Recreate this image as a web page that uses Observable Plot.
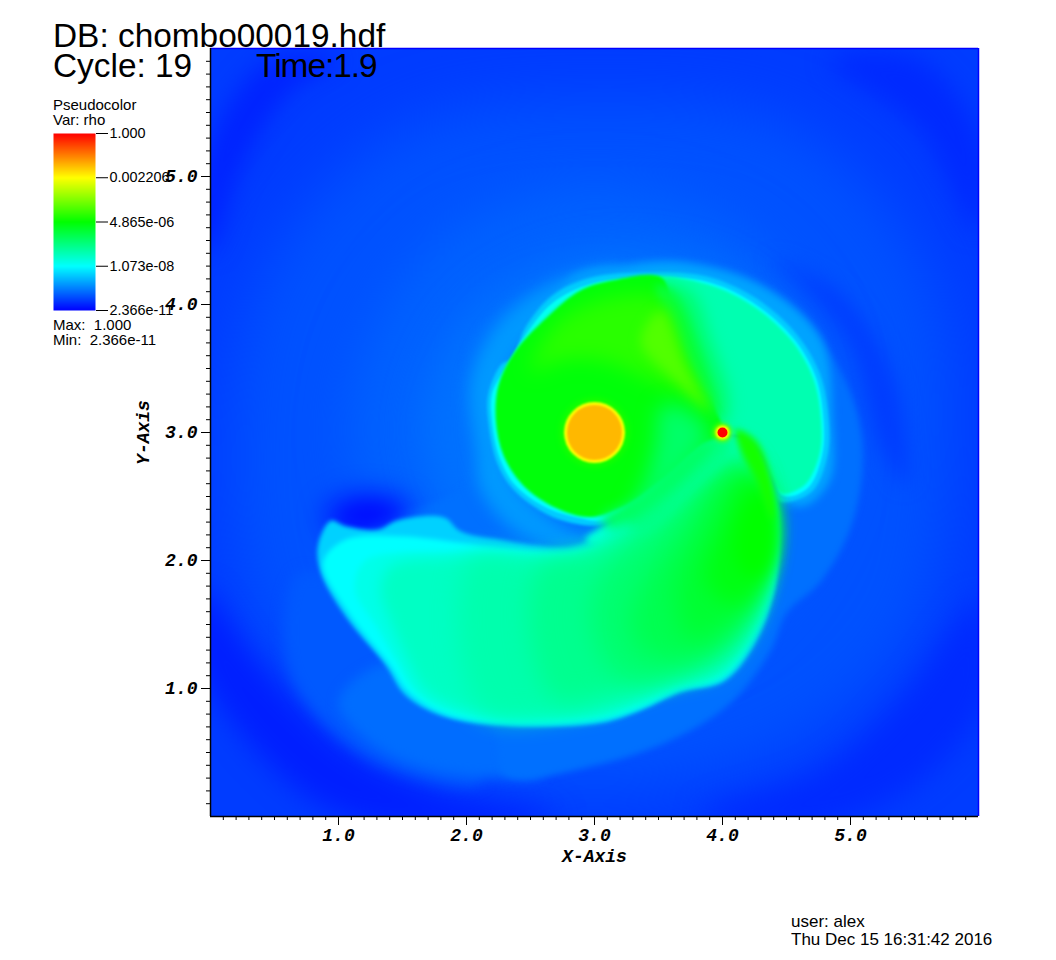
<!DOCTYPE html>
<html><head><meta charset="utf-8">
<script src="https://cdn.jsdelivr.net/npm/d3@7"></script>
<script src="https://cdn.jsdelivr.net/npm/@observablehq/plot@0.6"></script>
<style>
html,body{margin:0;padding:0;background:#fff}
#page{position:relative;width:1056px;height:960px;overflow:hidden;font-family:"Liberation Sans",sans-serif;color:#000}
#page svg{position:absolute;left:0;top:0;background:transparent}
.t{position:absolute;white-space:pre;line-height:1}
</style></head><body>
<div id="page"></div>
<script>
// colour table of the plot (rho, log scale)
const colorDomain=[2.366e-11,1.073e-8,4.865e-6,2.206e-3,1];
const colorRange=["#0000ff","#00ffff","#00ff00","#ffff00","#ff0000"];
// legend
const legendLogRho=[0,-2.656,-5.313,-7.969,-10.626];
const legendLabels=["1.000","0.002206","4.865e-06","1.073e-08","2.366e-11"];
// axis ticks
const majorTicks=[1,2,3,4,5];
const minorTicks=d3.range(1,60).map(d=>d/10);
// density of each zone
const domainBox=[{x1:0,x2:6,y1:0,y2:6,rho:1.0e-10}];
// outer halos
const haloOuter=[[3,5.59],[4.61,5.36],[5.63,4.19],[5.78,3],[5.55,1.53],[4.61,.59],[3,.2],[1.41,.59],[.39,1.53],[.16,3],[.47,4.34],[1.48,5.36]];
const haloMid=[[3,4.92],[4.30,4.45],[4.92,3],[4.30,1.61],[3,1.06],[1.72,1.61],[1.09,3],[1.72,4.45]];
const haloInner=[[3,4.42],[3.98,4.27],[4.61,3.64],[4.61,2.47],[3.05,2.0],[2.03,2.16],[1.64,3],[2.03,3.95]];
const darkSW=[[-.08,1.77],[.39,1.18],[1.02,.55],[1.72,.20],[2.73,.01],[2.02,-.11],[.94,.05],[.16,.75],[-.16,1.38]];
const darkSE=[[6.02,1.69],[5.39,.91],[4.77,.36],[3.83,.01],[4.61,-.11],[5.55,.28],[6.09,.98]];
const darkNW=[[0,4.42],[.23,5.05],[.63,5.67],[1.02,5.91],[.47,5.91],[.04,5.36],[-.12,4.58]];
const darkNE=[[4.84,5.91],[5.55,5.36],[5.98,4.58],[6.05,5.2],[5.55,5.91]];
const darkArc=[[4.38,4.35],[4.92,4.08],[5.35,3.38],[5.43,2.59],[5.23,2.91],[5.0,3.70],[4.61,4.17]];
const shelfSoft=[[2.13,.28],[1.4,.38],[.9,.72],[.6,1.2],[.7,1.9],[1.5,1.5]];
const shelfLeft=[[2.6,.33],[2.13,.31],[1.6,.40],[1.2,.62],[1.0,.9],[1.4,1.2],[2.4,.7]];
const shelf=[[3.44,4.33],[3.98,4.28],[4.53,3.99],[4.92,3.48],[5.09,2.94],[5.02,2.31],[4.77,1.84],[4.50,1.59],[4.38,1.30],[4.09,.91],[3.67,.63],[3.05,.41],[2.3,.33],[2.2,.7],[1.6,1.0],[1.3,1.4],[1.2,1.9],[1.2,2.23],[2.03,2.63],[2.03,3.72],[2.73,4.19]];
const rim=[[2.81,4.20],[3.20,4.30],[3.67,4.33],[4.30,4.15],[4.77,3.73],[4.86,3.09],[4.84,2.63],[4.65,2.43],[4.45,2.47],[4.30,2.86],[3.36,3.25],[2.58,3.63]];
const leftHalo=[[2.07,2.86],[2.03,3.41],[2.27,3.88],[2.73,4.19],[3.20,4.27],[3.05,4.03],[2.42,3.64],[2.27,3.09],[2.42,2.55],[3.05,2.16],[3.36,2.31],[3.05,2.06],[2.42,2.20],[2.11,2.55]];
const darkPatch=[[.9,2.36],[1.17,2.5],[1.55,2.42],[1.48,2.28],[1.05,2.22]];
// upper disc
const discOuter=[[2.17,3.09],[2.17,3.30],[2.27,3.53],[2.36,3.58],[2.46,3.82],[2.67,4.07],[2.97,4.21],[3.44,4.25],[3.87,4.22],[4.26,4.05],[4.57,3.78],[4.76,3.46],[4.83,3.09],[4.82,2.82],[4.71,2.55],[4.53,2.46],[4.43,2.47],[4.39,2.70],[4.26,2.94],[4.0,2.97],[3.67,2.74],[3.28,2.39],[3.05,2.28],[2.89,2.28],[2.63,2.36],[2.37,2.55],[2.24,2.76]];
const discCyan=[[2.20,3.09],[2.20,3.30],[2.30,3.50],[2.46,3.76],[2.67,4.01],[2.97,4.16],[3.44,4.21],[3.87,4.18],[4.23,4.02],[4.55,3.74],[4.73,3.43],[4.79,3.09],[4.78,2.83],[4.68,2.58],[4.53,2.50],[4.45,2.52],[4.40,2.72],[4.26,2.94],[4.0,2.97],[3.67,2.74],[3.28,2.41],[3.05,2.31],[2.89,2.33],[2.63,2.41],[2.38,2.59],[2.26,2.80]];
const rightSpring=[[3.44,4.20],[3.87,4.16],[4.22,4.0],[4.53,3.73],[4.71,3.42],[4.77,3.09],[4.76,2.84],[4.66,2.61],[4.53,2.53],[4.46,2.53],[4.39,2.63],[4.28,2.86],[4.14,2.98],[4.0,3.05],[3.83,3.48],[3.59,3.95]];
const rightWedge=[[3.44,4.15],[3.75,4.11],[3.91,3.72],[4.05,3.25],[4.0,3.05],[3.75,3.48],[3.55,3.95]];
const discGreen=[[2.23,3.09],[2.25,3.37],[2.37,3.62],[2.63,3.90],[2.89,4.11],[3.15,4.19],[3.52,4.21],[3.61,3.95],[3.77,3.56],[3.95,3.17],[4.0,3.0],[3.83,2.90],[3.52,2.63],[3.24,2.43],[2.97,2.34],[2.70,2.41],[2.44,2.59],[2.29,2.82]];
const discYellowGreen=[[2.5,3.48],[2.73,3.88],[3.2,4.07],[3.55,4.03],[3.75,3.52],[3.92,3.13],[3.75,3.29],[3.44,3.41],[3.05,3.56],[2.73,3.56]];
const ridge=[[3.36,3.71],[3.52,3.95],[3.71,3.52],[3.89,3.17],[3.67,3.37]];
const cutSoft=[[3.48,4.15],[3.61,4.11],[3.83,3.64],[3.98,3.09],[3.92,3.17],[3.67,3.64]];
const discSoft=[[3.05,2.33],[3.36,2.50],[3.83,2.90],[3.95,2.94],[3.44,2.43],[3.13,2.25]];
const eye=[[3.52,3.20],[3.71,3.18],[3.89,3.0],[3.75,2.77],[3.52,2.55],[3.28,2.39],[3.40,2.63],[3.48,2.94]];
const bridge=[[3.20,2.44],[3.52,2.70],[3.95,3.02],[4.10,2.94],[3.75,2.55],[3.36,2.23]];
const junction=[[2.93,2.16],[3.13,2.31],[3.36,2.47],[3.44,2.31],[3.16,2.08]];
// lower lobe
const lobeOuter=[[.94,2.31],[1.05,2.27],[1.31,2.24],[1.45,2.31],[1.72,2.35],[1.84,2.33],[1.95,2.23],[2.27,2.16],[2.81,2.11],[3.05,2.20],[3.28,2.39],[3.67,2.74],[4.0,2.97],[4.18,2.95],[4.34,2.74],[4.44,2.39],[4.42,1.84],[4.27,1.38],[4.02,1.06],[3.67,.97],[3.36,.83],[3.05,.73],[2.27,.71],[1.80,.79],[1.52,.95],[1.37,1.18],[1.05,1.57],[.86,1.91],[.84,2.12]];
const lobeCyan=[[.88,1.98],[1.05,2.16],[1.48,2.19],[1.95,2.14],[2.27,2.10],[2.81,2.07],[3.09,2.15],[3.32,2.38],[3.71,2.72],[4.0,2.95],[4.18,2.93],[4.31,2.73],[4.41,2.39],[4.40,1.84],[4.24,1.39],[4.0,1.08],[3.66,.99],[3.36,.85],[3.05,.76],[2.27,.73],[1.81,.81],[1.55,.97],[1.39,1.20],[1.08,1.59]];
const lobeFade=[[1.21,2.0],[1.88,2.06],[2.42,2.05],[2.85,2.05],[3.13,2.16],[3.36,2.38],[3.75,2.70],[4.0,2.92],[4.18,2.90],[4.30,2.70],[4.39,2.38],[4.38,1.84],[4.22,1.40],[3.98,1.10],[3.66,1.02],[3.36,.88],[3.05,.78],[2.27,.76],[1.84,.84],[1.60,.98],[1.45,1.22],[1.29,1.49],[1.13,1.77]];
const lobeSpring=[[1.40,1.95],[1.88,2.02],[2.42,2.02],[2.85,2.02],[3.13,2.14],[3.36,2.36],[3.75,2.68],[4.0,2.90],[4.18,2.88],[4.28,2.70],[4.37,2.38],[4.36,1.84],[4.20,1.42],[3.96,1.13],[3.65,1.05],[3.36,.92],[3.05,.82],[2.27,.80],[1.84,.88],[1.66,1.0],[1.54,1.22],[1.42,1.49],[1.33,1.77]];
const lobeA=[[2.03,2.0],[2.81,1.98],[3.2,2.23],[3.83,2.70],[4.10,2.90],[4.26,2.70],[4.34,2.38],[4.31,1.84],[4.18,1.45],[3.95,1.16],[3.59,1.08],[3.24,.95],[2.89,.84],[2.11,.84]];
const lobeB=[[2.58,1.96],[3.13,2.08],[3.83,2.63],[4.14,2.82],[4.31,2.38],[4.28,1.80],[4.10,1.41],[3.83,1.18],[3.44,1.06],[3.05,.95],[2.70,.91],[2.5,1.38]];
const lobeC=[[3.05,1.88],[3.44,2.23],[3.83,2.55],[4.18,2.77],[4.31,2.38],[4.26,1.77],[4.05,1.38],[3.75,1.18],[3.36,1.06],[3.13,1.14],[2.97,1.53]];
const lobeD=[[3.36,1.80],[3.67,2.23],[3.98,2.63],[4.22,2.70],[4.33,2.38],[4.23,1.73],[4.0,1.38],[3.67,1.22],[3.36,1.30],[3.28,1.53]];
const lobeE=[[3.63,1.77],[3.83,2.23],[4.06,2.63],[4.26,2.66],[4.38,2.31],[4.26,1.77],[4.02,1.49],[3.75,1.38]];
const lobeF=[[3.87,1.84],[4.02,2.31],[4.18,2.63],[4.31,2.59],[4.41,2.27],[4.31,1.84],[4.10,1.65]];
const lobeG=[[4.10,2.04],[4.18,2.43],[4.31,2.55],[4.41,2.27],[4.36,1.96],[4.22,1.86]];
const edgeRidge=[[4.10,3.02],[4.26,2.94],[4.38,2.63],[4.39,2.31],[4.26,2.63],[4.14,2.86]];
// star and planet
const star=[{x:3,y:3}];
const planet=[{x:4,y:3}];

const colorScale={type:"log",domain:colorDomain,range:colorRange};

function zone(points,rho,blur){
  return Plot.line(points,{x:d=>d[0],y:d=>d[1],fill:()=>rho,stroke:null,curve:"catmull-rom-closed",clip:true,imageFilter:`blur(${blur}px)`});
}
function disc(data,rho,r,blur){
  return Plot.dot(data,{x:"x",y:"y",r,fill:()=>rho,stroke:null,clip:true,imageFilter:`blur(${blur}px)`});
}
const axisStyle={fontFamily:"Liberation Mono",fontWeight:"bold",fontStyle:"italic",fontSize:18,stroke:"#000"};
const chart=Plot.plot({
  width:1056,height:960,marginLeft:210,marginRight:78,marginTop:48,marginBottom:144,
  x:{domain:[0,6]},y:{domain:[0,6]},color:colorScale,
  style:{background:"transparent",overflow:"visible"},
  marks:[
    Plot.rect(domainBox,{x1:"x1",x2:"x2",y1:"y1",y2:"y2",fill:"rho"}),
    zone(haloOuter,1.7e-10,30),
    zone(haloMid,2.5e-10,25),
    zone(haloInner,3.6e-10,18),
    zone(darkSW,5e-11,14),
    zone(darkSE,6.5e-11,14),
    zone(darkNW,5.5e-11,12),
    zone(darkNE,6.5e-11,12),
    zone(darkArc,1.0e-10,10),
    zone(shelfSoft,2.0e-10,7),
    zone(shelfLeft,3.2e-10,6),
    zone(shelf,3.5e-10,3),
    zone(rim,1.19e-9,4),
    zone(leftHalo,9.3e-10,8),
    zone(darkPatch,2.5e-11,14),
    zone(discOuter,3.15e-9,1.5),
    zone(discCyan,1.07e-8,1),
    zone(lobeOuter,3.6e-9,2),
    zone(lobeCyan,1.07e-8,2.5),
    zone(junction,1.8e-8,3),
    zone(rightSpring,7e-8,1.5),
    zone(rightWedge,3.3e-7,8),
    zone(lobeFade,1.8e-8,3),
    zone(lobeSpring,4.4e-8,7),
    zone(lobeA,7.6e-8,12),
    zone(lobeB,1.58e-7,12),
    zone(lobeC,3.3e-7,12),
    zone(lobeD,6.9e-7,12),
    zone(lobeE,1.44e-6,12),
    zone(lobeF,3.0e-6,10),
    zone(lobeG,4.865e-6,8),
    zone(bridge,2e-7,6),
    zone(discGreen,3.8e-6,1.5),
    zone(cutSoft,8.5e-7,4),
    zone(discYellowGreen,1.29e-5,10),
    zone(ridge,3.44e-5,6),
    zone(discSoft,5e-7,6),
    zone(eye,4e-7,10),
    zone(edgeRidge,7.9e-6,3),
    disc(star,7.9e-6,35,2.5),
    disc(star,2.206e-3,30.5,1.2),
    disc(star,0.0122,27.5,.8),
    disc(planet,5e-5,9.5,2),
    disc(planet,2.206e-3,7,1.2),
    disc(planet,1,5,.4),
    Plot.ruleX([6],{stroke:"#0000ff",strokeWidth:1.5}),
    Plot.ruleY([6],{stroke:"#0000ff",strokeWidth:1.5}),
    Plot.axisX({ticks:minorTicks,tickSize:4,tickFormat:()=>"",label:null,stroke:"#000"}),
    Plot.axisY({ticks:minorTicks,tickSize:4,tickFormat:()=>"",label:null,stroke:"#000"}),
    Plot.axisX({ticks:majorTicks,tickSize:9,tickPadding:3,tickFormat:".1f",label:"X-Axis",labelAnchor:"center",labelArrow:"none",labelOffset:45,...axisStyle}),
    Plot.axisY({ticks:majorTicks,tickSize:9,tickPadding:4,tickFormat:".1f",label:"Y-Axis",labelAnchor:"center",labelArrow:"none",labelOffset:74,...axisStyle}),
    Plot.ruleX([0],{stroke:"#000",strokeWidth:1.5}),
    Plot.ruleY([0],{stroke:"#000",strokeWidth:1.5})
  ]
});

const legend=Plot.plot({
  width:200,height:320,marginLeft:53,marginRight:105,marginTop:133,marginBottom:10,
  x:{domain:[0,1],axis:null},y:{domain:[-10.626,0]},color:colorScale,
  style:{background:"transparent",overflow:"visible"},
  marks:[
    Plot.raster({x1:0,x2:1,y1:-10.626,y2:0,width:1,height:177,fill:(x,y)=>Math.pow(10,y),imageRendering:"auto"}),
    Plot.axisY({ticks:legendLogRho,anchor:"right",tickSize:12,tickPadding:2,tickFormat:(d,i)=>legendLabels[i],label:null,fontFamily:"Liberation Sans",fontSize:14.4})
  ]
});

const page=document.getElementById("page");
page.append(chart,legend);
const texts=[
  ["DB: chombo00019.hdf",53,19,33.4,0],
  ["Cycle: 19",53,49,33.4,0],
  ["Time:1.9",256,49,33.4,-1],
  ["Pseudocolor",53,97,15,0],
  ["Var: rho",53,112,15,0],
  ["Max:  1.000",53,317,15,0],
  ["Min:  2.366e-11",53,332,15,0],
  ["user: alex",791,913,17,0],
  ["Thu Dec 15 16:31:42 2016",791,931,17,0]
];
for(const [s,x,y,f,ls] of texts){
  const d=document.createElement("div");d.className="t";d.textContent=s;
  d.style.left=x+"px";d.style.top=y+"px";d.style.fontSize=f+"px";d.style.letterSpacing=ls+"px";
  page.append(d);
}
</script></body></html>
